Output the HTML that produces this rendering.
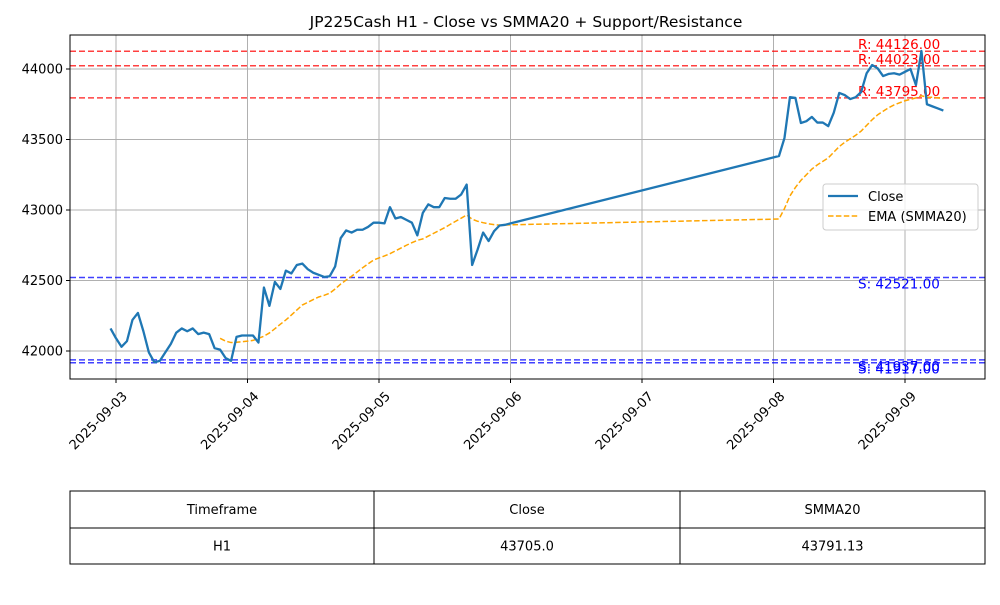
<!DOCTYPE html>
<html><head><meta charset="utf-8"><style>
body{margin:0;background:#fff;font-family:"Liberation Sans","DejaVu Sans",sans-serif;}
svg text{font-family:"DejaVu Sans","Liberation Sans",sans-serif;}
</style></head><body>
<svg id="c" width="1000" height="600"></svg>
<script>
const closeHours=[-1,0,1,2,3,4,5,6,7,8,9,10,11,12,13,14,15,16,17,18,19,20,21,22,23,24,25,26,27,28,29,30,31,32,33,34,35,36,37,38,39,40,41,42,43,44,45,46,47,48,49,50,51,52,53,54,55,56,57,58,59,60,61,62,63,64,65,66,67,68,69,70,71,72,121,122,123,124,125,126,127,128,129,130,131,132,133,134,135,136,137,138,139,140,141,142,143,144,145,146,147,148,149,150,151];
const closeVals=[42160,42090,42030,42070,42220,42270,42140,41990,41920,41930,41990,42050,42130,42160,42140,42160,42120,42130,42120,42020,42010,41950,41930,42100,42110,42110,42110,42060,42450,42320,42490,42440,42570,42550,42610,42620,42580,42555,42540,42525,42530,42600,42800,42855,42840,42860,42860,42880,42910,42910,42905,43020,42940,42950,42930,42910,42820,42980,43040,43020,43020,43085,43080,43080,43110,43180,42610,42720,42840,42780,42850,42890,42895,42905,
43383,43510,43800,43795,43617,43630,43660,43620,43620,43595,43690,43830,43815,43787,43800,43837,43970,44028,44005,43950,43965,43970,43960,43980,44000,43886,44128,43750,43735,43720,43705];
const smmaHours=[19,20,21,22,23,24,25,26,27,28,29,30,31,32,33,34,35,36,37,38,39,40,41,42,43,44,45,46,47,48,49,50,51,52,53,54,55,56,57,58,59,60,61,62,63,64,65,66,67,68,69,70,71,72,121,122,123,124,125,126,127,128,129,130,131,132,133,134,135,136,137,138,139,140,141,142,143,144,145,146,147,148,149,150,151];
const smmaVals=[42090,42070,42060,42062,42066,42070,42075,42090,42105,42128,42158,42190,42220,42255,42290,42326,42345,42365,42383,42395,42410,42440,42475,42503,42530,42560,42590,42618,42645,42660,42674,42690,42710,42730,42750,42768,42785,42795,42815,42835,42855,42875,42898,42920,42942,42965,42935,42920,42910,42902,42896,42893,42893,42895,
42936,43010,43100,43160,43210,43250,43290,43320,43345,43370,43410,43450,43480,43505,43530,43560,43600,43640,43675,43700,43725,43745,43760,43775,43785,43795,43810,43800,43800,43795,43791];
const resistance=[44126,44023,43795];
const support=[42521,41937,41917];
const yTicks=[42000,42500,43000,43500,44000];
const xTickLabels=["2025-09-03","2025-09-04","2025-09-05","2025-09-06","2025-09-07","2025-09-08","2025-09-09"];
const tableHeader=["Timeframe","Close","SMMA20"];
const tableRow=["H1","43705.0","43791.13"];

const L=70,R=985,T=35,B=379;
const X=h=>116+h*131.5/24;
const Y=v=>351-(v-42000)*0.141;
const NS="http://www.w3.org/2000/svg";
const svg=document.getElementById('c');
function mk(tag,attrs,parent){const e=document.createElementNS(NS,tag);for(const k in attrs)e.setAttribute(k,attrs[k]);(parent||svg).appendChild(e);return e;}

let t=mk('text',{x:526,y:27,'text-anchor':'middle','font-size':15.5});t.textContent="JP225Cash H1 - Close vs SMMA20 + Support/Resistance";



xTickLabels.forEach((lab,i)=>{const x=X(i*24);
 let g=mk('line',{x1:x,x2:x,y1:T,y2:B,stroke:'#b0b0b0','stroke-width':1});
 
 
 mk('line',{x1:x,x2:x,y1:B,y2:B+4,stroke:'#000'});
 let tx=mk('text',{x:0,y:0,'text-anchor':'end','font-size':13,transform:`translate(${x+12},${B+18}) rotate(-45)`});tx.textContent=lab;
 
 
});
yTicks.forEach(v=>{const y=Y(v);
 let g=mk('line',{x1:L,x2:R,y1:y,y2:y,stroke:'#b0b0b0','stroke-width':1});
 
 
 mk('line',{x1:L-4,x2:L,y1:y,y2:y,stroke:'#000'});
 let tx=mk('text',{x:L-7,y:y+4.5,'text-anchor':'end','font-size':13});tx.textContent=v;
 
 
});
resistance.forEach(v=>{const y=Y(v);
 let l=mk('line',{x1:L,x2:R,y1:y,y2:y,stroke:'#ff0000','stroke-opacity':0.75,'stroke-width':1.5,'stroke-dasharray':'6,3'});
 
 
 let tx=mk('text',{x:858,y:y-2,'font-size':13.5,fill:'#ff0000'});tx.textContent="R: "+v.toFixed(2);
 
 
});
support.forEach(v=>{const y=Y(v);
 let l=mk('line',{x1:L,x2:R,y1:y,y2:y,stroke:'#0000ff','stroke-opacity':0.75,'stroke-width':1.5,'stroke-dasharray':'6,3'});
 
 
 let tx=mk('text',{x:858,y:y+11,'font-size':13.5,fill:'#0000ff'});tx.textContent="S: "+v.toFixed(2);
 
 
});
let p=mk('polyline',{points:smmaHours.map((h,i)=>X(h)+','+Y(smmaVals[i])).join(' '),fill:'none',stroke:'#ffa500','stroke-width':1.5,'stroke-dasharray':'5.5,2.4'});


p=mk('polyline',{points:closeHours.map((h,i)=>X(h)+','+Y(closeVals[i])).join(' '),fill:'none',stroke:'#1f77b4','stroke-width':2.3,'stroke-linejoin':'round'});


let f=mk('rect',{x:L,y:T,width:R-L,height:B-T,fill:'none',stroke:'#000','stroke-width':1});


let lg=mk('g',{});


mk('rect',{x:823,y:184,width:155,height:46,rx:3,fill:'#fff','fill-opacity':0.8,stroke:'#ccc'},lg);
mk('line',{x1:828,x2:858,y1:196,y2:196,stroke:'#1f77b4','stroke-width':2.2},lg);
let lt=mk('text',{x:868,y:201,'font-size':13},lg);lt.textContent="Close";
mk('line',{x1:828,x2:858,y1:216,y2:216,stroke:'#ffa500','stroke-width':1.5,'stroke-dasharray':'5.5,2.4'},lg);
lt=mk('text',{x:868,y:221,'font-size':13},lg);lt.textContent="EMA (SMMA20)";
const cols=[70,374,680,985],rows=[491,528,564];
let tb=mk('g',{});


[tableHeader,tableRow].forEach((row,r)=>row.forEach((txt,c)=>{
 mk('rect',{x:cols[c],y:rows[r],width:cols[c+1]-cols[c],height:rows[r+1]-rows[r],fill:'#fff',stroke:'#000'},tb);
 let tx=mk('text',{x:(cols[c]+cols[c+1])/2,y:(rows[r]+rows[r+1])/2+4.5,'text-anchor':'middle','font-size':13},tb);tx.textContent=txt;
 
 
}));
</script>
</body></html>
